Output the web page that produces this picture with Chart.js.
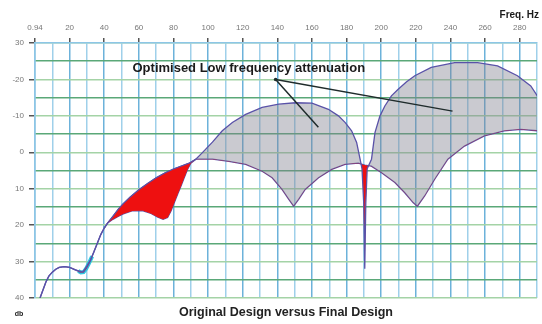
<!DOCTYPE html>
<html>
<head>
<meta charset="utf-8">
<script src="https://cdn.jsdelivr.net/npm/chart.js@4/dist/chart.umd.min.js"></script>
<style>
  html, body { margin: 0; padding: 0; background: #ffffff; }
  #wrap { width: 542px; height: 324px; }
</style>
</head>
<body>
<div id="wrap"><canvas id="chart" width="542" height="324"></canvas></div>
<script>
// Frequency axis tick labels (every 20 Hz)
const xTickLabels = ['0.94', '20', '40', '60', '80', '100', '120', '140', '160', '180', '200', '220', '240', '260', '280'];
// Level axis tick labels (every 10 dB, from top to bottom)
const yTickLabels = ['30', '-20', '-10', '0', '10', '20', '30', '40'];
const yTickValues = [-30, -20, -10, 0, 10, 20, 30, 40];

// Final design response (Hz / dB)
const finalFreq = [2.9, 4.6, 6.3, 8, 10, 12, 14, 17, 20, 23, 26, 28, 30, 32, 34, 36, 38, 40, 42, 45, 48, 51, 55, 60, 65, 70, 75, 80, 85, 89,
  92.9, 96.7, 102.5, 108.2, 114, 121.7, 131.2, 140.8, 150.4, 160, 169.5, 175.3, 179.1, 182.9, 185.8, 187.8,
  188.9, 189.9, 190.5, 191.1, 191.9, 194.4, 196.4, 199.3, 202.1, 205.9, 209.8, 214.5, 219.4, 228.9, 242.4, 255.7, 267.2, 278.7, 286.4, 290.2];
const finalDb = [40, 37.8, 35.6, 34, 32.9, 32.1, 31.6, 31.4, 31.6, 32.2, 32.7, 32.6, 31.2, 29.6, 27.4, 25, 22.6, 20.8, 19.4, 17.6, 15.7, 14.1, 12.3, 10.3, 8.6, 7.0, 5.7, 4.6, 3.7, 3.0,
  1.9, 0.1, -2.8, -5.9, -8.2, -10.4, -12.3, -13.2, -13.6, -13.5, -11.8, -10, -8.2, -5.9, -2.7, 1.9,
  4.5, 14, 32, 14, 4.5, 1.9, -5.4, -10, -12.7, -15.5, -17.3, -19.3, -21, -23.3, -24.6, -24.6, -23.7, -21, -18.2, -15.5];

// Original design response (Hz / dB)
const originalFreq = [2.9, 4.6, 6.3, 8, 10, 12, 14, 17, 20, 23, 26, 28, 30, 32, 34, 36, 38, 40, 42, 45, 48, 51, 56, 62, 67, 71, 74, 76.6, 78.5, 80.5, 82.5, 84.3, 86.2, 88.1, 90,
  92.9, 102.5, 112, 121.7, 131.2, 137, 142.7, 146.6, 149.4, 152.3, 156.1, 163.8, 171.4, 179.1, 186.8, 190.5, 194.3,
  200.2, 207.9, 213.6, 218.4, 220.9, 225.1, 230.9, 238.5, 248.1, 259.6, 271.1, 280.6, 290.2];
const originalDb = [40, 37.8, 35.6, 34, 32.9, 32.1, 31.6, 31.4, 31.6, 32.2, 32.9, 32.9, 31.6, 29.8, 27.4, 25, 22.6, 20.8, 19.4, 18.4, 17.6, 16.9, 16.1, 16.0, 16.8, 17.8, 18.4, 17.9, 16.2, 13.8, 11.4, 9.3, 7.0, 4.7, 3.0,
  1.9, 1.9, 2.5, 3.3, 5.2, 7, 10.2, 12.9, 14.8, 12.9, 10.2, 7, 4.7, 3.3, 3.0, 3.5, 3.8,
  5.6, 8.3, 11.1, 13.8, 14.8, 12, 7.4, 1.9, -1.7, -4.5, -5.9, -6.3, -5.9];

// Low-frequency band of the final design that is shaded red (Hz range)
const lowBand = [40, 92.9];

// Short highlighted stretch around the low-frequency dip
const dipFreq = [25, 26.5, 28, 29.5, 31, 33];
const dipDb = [32.6, 33.0, 32.9, 32.0, 30.6, 28.6];

// Callout text and its pointer lines (Hz / dB)
const calloutText = 'Optimised Low frequency attenuation';
const calloutAt = [123.5, -23];
const pointerFrom = [139, -20];
const pointerTo = [[163.7, -6.9], [241.2, -11.3]];

const toPoints = (xs, ys) => xs.map((x, i) => ({ x: x, y: ys[i] }));
const inBand = (pts, band) => pts.filter((p) => p.x >= band[0] && p.x <= band[1]);
const FONT = "'Liberation Sans', Arial, sans-serif";
const LINE = '#5a52a8';

const calloutPlugin = {
  id: 'callout',
  afterDatasetsDraw(chart) {
    const { ctx, scales } = chart;
    const px = (p) => [scales.x.getPixelForValue(p[0]), scales.y.getPixelForValue(p[1])];
    const from = px(pointerFrom);
    ctx.save();
    ctx.strokeStyle = '#1f2b2b';
    ctx.lineWidth = 1.5;
    pointerTo.forEach((p) => {
      const to = px(p);
      ctx.beginPath();
      ctx.moveTo(from[0], from[1]);
      ctx.lineTo(to[0], to[1]);
      ctx.stroke();
    });
    ctx.fillStyle = '#1f2b2b';
    ctx.beginPath();
    ctx.arc(from[0], from[1], 1.8, 0, Math.PI * 2);
    ctx.fill();
    const at = px(calloutAt);
    ctx.font = 'bold 13px ' + FONT;
    ctx.fillStyle = '#1a1a1a';
    ctx.textAlign = 'center';
    ctx.textBaseline = 'middle';
    ctx.fillText(calloutText, at[0], at[1]);
    ctx.restore();
  },
  afterDraw(chart) {
    const { ctx } = chart;
    ctx.save();
    ctx.fillStyle = '#1a1a1a';
    ctx.font = 'bold 10px ' + FONT;
    ctx.textAlign = 'right';
    ctx.textBaseline = 'middle';
    ctx.fillText('Freq. Hz', 539, 15);
    ctx.font = 'bold 7px ' + FONT;
    ctx.textAlign = 'center';
    ctx.fillText('db', 19, 314);
    ctx.restore();
  }
};

const finalPoints = toPoints(finalFreq, finalDb);

new Chart(document.getElementById('chart'), {
  type: 'line',
  data: {
    datasets: [
      {
        label: 'Final Design',
        data: finalPoints,
        borderColor: LINE,
        borderWidth: 1.3,
        pointRadius: 0,
        tension: 0,
        order: 2,
        fill: { target: 1, above: 'rgba(128,128,142,0.42)', below: 'rgb(238,16,16)' }
      },
      {
        label: 'Original Design',
        data: toPoints(originalFreq, originalDb),
        borderColor: LINE,
        borderWidth: 1.3,
        pointRadius: 0,
        tension: 0,
        order: 3,
        fill: false
      },
      {
        label: 'Final Design (low band)',
        data: inBand(finalPoints, lowBand),
        borderColor: LINE,
        borderWidth: 1.1,
        backgroundColor: 'rgb(238,16,16)',
        pointRadius: 0,
        tension: 0,
        order: 1,
        fill: { target: 1 }
      },
      {
        label: 'Dip',
        data: toPoints(dipFreq, dipDb),
        borderColor: '#2ec8e0',
        borderWidth: 4,
        pointRadius: 0,
        tension: 0,
        order: 4,
        fill: false
      }
    ]
  },
  options: {
    responsive: false,
    animation: false,
    devicePixelRatio: 1,
    layout: { padding: { top: 0, right: 2, bottom: 0, left: 0 } },
    plugins: {
      legend: { display: false },
      tooltip: { enabled: false },
      title: {
        display: true,
        position: 'bottom',
        fullSize: false,
        text: 'Original Design versus Final Design',
        color: '#222222',
        font: { family: FONT, size: 12.5, weight: 'bold' },
        padding: { top: 7.5, bottom: 3.5 }
      }
    },
    scales: {
      x: {
        type: 'linear',
        position: 'top',
        min: 0,
        max: 290,
        afterFit(scale) { scale.height = 43; },
        border: { color: '#8cc6e6', width: 1.5 },
        grid: {
          color: (c) => (c.tick && c.tick.value % 20 === 0) ? '#6cb2da' : '#9fd0ea',
          lineWidth: 1.5,
          drawTicks: true,
          tickLength: 5,
          tickColor: (c) => (c.tick && c.tick.value % 20 === 0) ? '#555555' : 'rgba(0,0,0,0)'
        },
        ticks: {
          stepSize: 10,
          autoSkip: false,
          maxRotation: 0,
          padding: 5,
          color: '#777777',
          font: { family: FONT, size: 8 },
          callback: (v) => (v % 20 === 0 ? xTickLabels[v / 20] : '')
        }
      },
      y: {
        type: 'linear',
        position: 'left',
        reverse: true,
        min: -30,
        max: 40,
        afterFit(scale) { scale.width = 35; },
        border: { color: '#8cc6e6', width: 1.5 },
        grid: {
          color: (c) => (c.tick && c.tick.value % 10 === 0) ? '#a4d3a6' : '#5aa878',
          lineWidth: 1.5,
          drawTicks: true,
          tickLength: 6,
          tickColor: (c) => (c.tick && c.tick.value % 10 === 0) ? '#555555' : 'rgba(0,0,0,0)'
        },
        ticks: {
          stepSize: 5,
          autoSkip: false,
          padding: 5,
          color: '#777777',
          font: { family: FONT, size: 8 },
          callback: (v) => {
            const i = yTickValues.indexOf(v);
            return i >= 0 ? yTickLabels[i] : '';
          }
        }
      }
    }
  },
  plugins: [calloutPlugin]
});
</script>
</body>
</html>
